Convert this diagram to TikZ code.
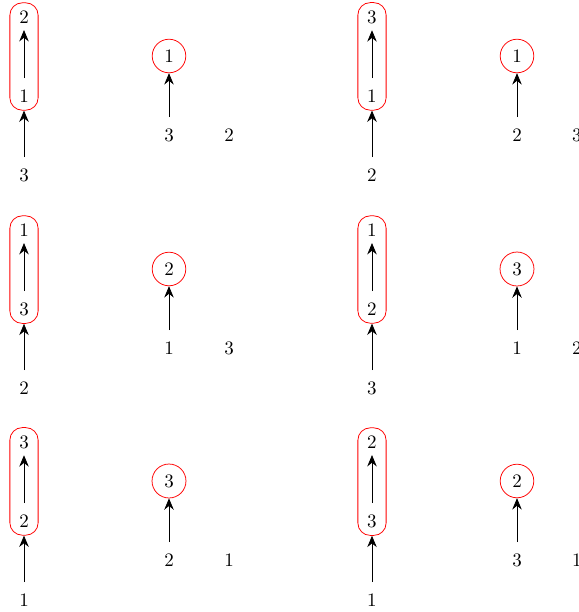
\documentclass[tikz,border=0pt]{standalone}
\usetikzlibrary{fit,arrows.meta}
\tikzset{
  lbl/.style={inner sep=3.333pt},
  hl/.style={draw=red, circle, inner sep=3.333pt},
  grp/.style={draw=red, rounded corners=6.5pt, inner xsep=1.4pt, inner ysep=0.6pt},
  con/.style={-{Stealth[length=6pt,width=5pt,inset=2pt]}, shorten <=2.5pt},
}
\newcommand{\drawpanel}[9]{%
  \node[lbl] (#1t) at (#2+24,#3+17) {#4};
  \node[lbl] (#1m) at (#2+24,#3+96) {#5};
  \node[lbl] (#1b) at (#2+24,#3+175) {#6};
  \node[grp, fit=(#1t)(#1m)] (#1g) {};
  \draw[con] (#1m) -- (#1t);
  \draw[con] (#1b) -- (#1g);
  \node[hl] (#1c) at (#2+169,#3+56) {#7};
  \node[lbl] (#1d) at (#2+169,#3+135) {#8};
  \node[lbl] (#1r) at (#2+229,#3+135) {#9};
  \draw[con] (#1d) -- (#1c);
}
\begin{document}
\begin{tikzpicture}[x=0.5263pt,y=-0.5263pt]
\useasboundingbox (0,0) rectangle (579,612);
\drawpanel{a}{0}{0}{2}{1}{3}{1}{3}{2}
\drawpanel{b}{348}{0}{3}{1}{2}{1}{2}{3}
\drawpanel{c}{0}{213}{1}{3}{2}{2}{1}{3}
\drawpanel{d}{348}{213}{1}{2}{3}{3}{1}{2}
\drawpanel{e}{0}{425}{3}{2}{1}{3}{2}{1}
\drawpanel{f}{348}{425}{2}{3}{1}{2}{3}{1}
\end{tikzpicture}
\end{document}
